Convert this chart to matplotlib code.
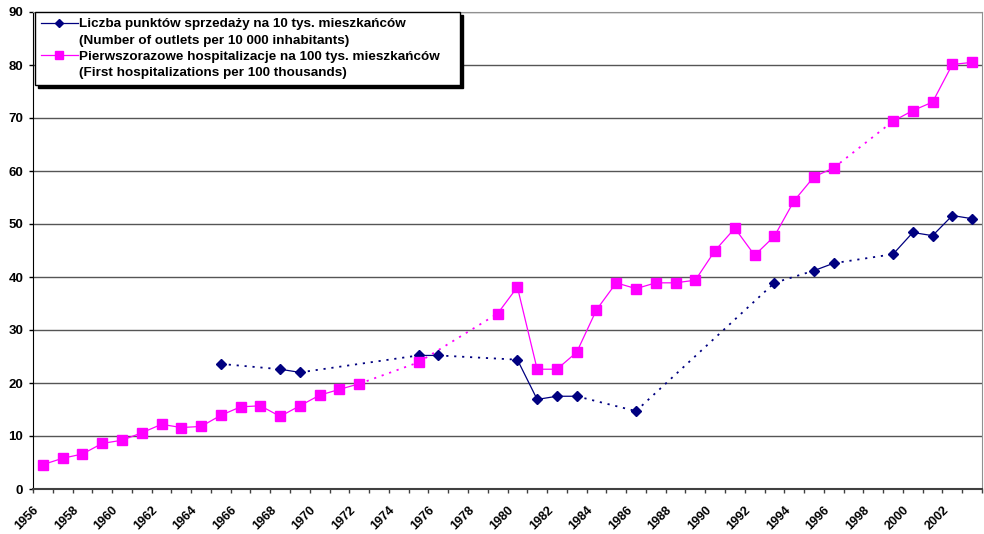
import numpy as np
import matplotlib.pyplot as plt
from matplotlib.lines import Line2D

years = list(range(1956, 2004))
nan = np.nan

# First hospitalizations per 100 thousands
hosp = [4.6, 5.8, 6.6, 8.6, 9.2, 10.6, 12.2, 11.6, 11.8, 13.9,
        15.5, 15.7, 13.7, 15.7, 17.7, 18.8, 19.85, nan, nan, 23.9,
        nan, nan, nan, 33.1, 38.1, 22.6, 22.6, 25.8, 33.8, 38.9,
        37.8, 38.9, 38.9, 39.4, 45.0, 49.2, 44.1, 47.7, 54.4, 58.9,
        60.6, nan, nan, 69.4, 71.4, 73.0, 80.1, 80.5]

# Number of outlets per 10 000 inhabitants
outlets = [nan, nan, nan, nan, nan, nan, nan, nan, nan, 23.6,
           nan, nan, 22.6, 22.0, nan, nan, nan, nan, nan, 25.2,
           25.2, nan, nan, nan, 24.4, 16.9, 17.5, 17.5, nan, nan,
           14.7, nan, nan, nan, nan, nan, nan, 38.9, nan, 41.2,
           42.6, nan, nan, 44.3, 48.4, 47.8, 51.6, 51.0]

labels = ["Liczba punktów sprzedaży na 10 tys. mieszkańców",
          "(Number of outlets per 10 000 inhabitants)",
          "Pierwszorazowe hospitalizacje na 100 tys. mieszkańców",
          "(First hospitalizations per 100 thousands)"]

plt.rcParams['font.family'] = ['Liberation Sans', 'DejaVu Sans']
plt.rcParams['font.weight'] = 'bold'

BLUE = '#000080'
MAG = '#FF00FF'


def draw_series(ax, vals, color, marker, ms):
    vals = np.array(vals, dtype=float)
    x = np.arange(len(vals)) + 0.5
    ax.plot(x, vals, color=color, lw=0.9, zorder=3)
    ok = np.where(~np.isnan(vals))[0]
    # dotted bridges over missing years
    for a, b in zip(ok[:-1], ok[1:]):
        if b - a > 1:
            ax.plot([x[a], x[b]], [vals[a], vals[b]], color=color, lw=1.3,
                    ls=(0, (1.2, 3.2)), zorder=3)
    ax.plot(x[ok], vals[ok], ls='none', marker=marker, ms=ms, color=color,
            mec=color, zorder=4)


fig = plt.figure(figsize=(9.84, 5.34), dpi=100)
ax = fig.add_axes([33 / 984, 1 - 489 / 534, 949 / 984, 477 / 534])

draw_series(ax, outlets, BLUE, 'D', 4.8)
draw_series(ax, hosp, MAG, 's', 6.8)

n = len(years)
ax.set_xlim(0, n)
ax.set_ylim(0, 90)
ax.set_yticks(range(0, 91, 10))
ax.set_yticklabels([str(v) for v in range(0, 91, 10)], fontsize=9.5, fontweight='bold')
ax.set_xticks(range(0, n, 2))
ax.set_xticklabels([str(y) for y in years[::2]], rotation=45, ha='right',
                   rotation_mode='anchor', fontsize=9, fontweight='bold')
ax.set_xticks(range(0, n + 1), minor=True)
ax.tick_params(axis='x', which='both', direction='out', length=3, width=1,
               color='#404040', pad=8)
ax.tick_params(axis='y', direction='out', length=3, width=1, pad=4)

ax.grid(axis='y', color='#555555', lw=1)
ax.set_axisbelow(True)
ax.spines['left'].set_color('black')
ax.spines['bottom'].set_color('#404040')
ax.spines['bottom'].set_linewidth(1.5)
for s in ('top', 'right'):
    ax.spines[s].set_color('#909090')

handles = [Line2D([], [], color=BLUE, lw=0.9, marker='D', ms=4.5),
           Line2D([], [], color='none'),
           Line2D([], [], color=MAG, lw=0.9, marker='s', ms=6),
           Line2D([], [], color='none')]
leg = ax.legend(handles, labels, loc='upper left',
                bbox_to_anchor=(0.002, 0.0, 425 / 949, 1.0), mode='expand',
                borderaxespad=0, fancybox=False, edgecolor='black', framealpha=1,
                shadow={'color': 'black', 'alpha': 1},
                handlelength=2.75, handletextpad=0.1, labelspacing=0.27,
                borderpad=0.45, prop={'weight': 'bold', 'size': 9.7})
leg.get_frame().set_linewidth(1)
leg.set_zorder(10)

fig.savefig('out.png', dpi=100)
